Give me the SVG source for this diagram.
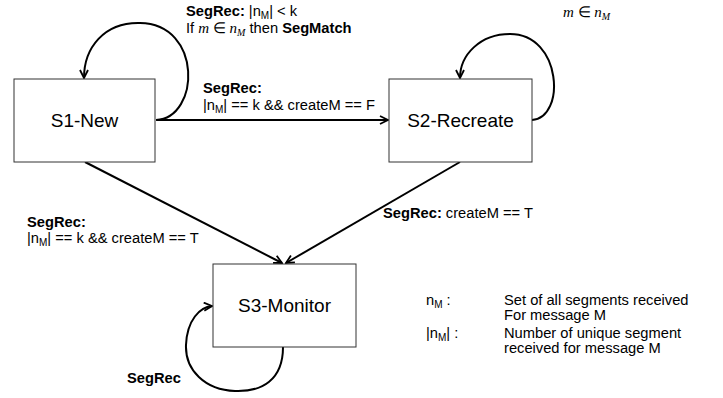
<svg xmlns="http://www.w3.org/2000/svg" width="723" height="398" viewBox="0 0 723 398">
<style>
.box{fill:#fff;stroke:#333;stroke-width:1}
.nl{font-family:"Liberation Sans",Arial,sans-serif;font-size:19px;fill:#000;text-anchor:middle}
.t{font-family:"Liberation Sans",Arial,sans-serif;font-size:14.7px;fill:#000}
.b{font-weight:bold}
.m{font-family:"Liberation Serif","Times New Roman",serif;font-size:15px}
.i{font-style:italic}
.sub{font-size:10px}
.e{fill:none;stroke:#000;stroke-width:2}
</style>
<defs>
<marker id="ah" viewBox="0 0 10 10" refX="9" refY="5" markerWidth="5" markerHeight="5" orient="auto" markerUnits="strokeWidth">
<path d="M1,1 L9,5 L1,9" fill="none" stroke="#000" stroke-width="1.8"/>
</marker>
</defs>
<g id="connectors">
<path class="e" d="M157,120 L388,120" marker-end="url(#ah)"/>
<path class="e" d="M85,162 L282,263" marker-end="url(#ah)"/>
<path class="e" d="M460,162 L286,263" marker-end="url(#ah)"/>
<path class="e" d="M156,120 C200,118 203,24 140,23 C104,22 84,48 84,78" marker-end="url(#ah)"/>
<path class="e" d="M532,120 C566,118 562,34 510,34 C480,34 460,55 460,78" marker-end="url(#ah)"/>
<path class="e" d="M283,347 C283,380 262,392 235,391 C205,390 185,370 186,345 C187,320 200,307 212,306" marker-end="url(#ah)"/>
</g>
<g id="s1"><rect class="box" x="14" y="79" width="141" height="83"/><text class="nl" x="84.5" y="127">S1-New</text></g>
<g id="s2"><rect class="box" x="389" y="79" width="143" height="83"/><text class="nl" x="460.5" y="127">S2-Recreate</text></g>
<g id="s3"><rect class="box" x="213" y="264" width="143" height="83"/><text class="nl" x="284.5" y="312">S3-Monitor</text></g>
<g id="labels">
<text class="t" x="186" y="16"><tspan class="b">SegRec:</tspan> |n<tspan class="sub" dy="3">M</tspan><tspan dy="-3">| &lt; k</tspan></text>
<text class="t" x="186" y="33">If <tspan class="m i">m</tspan><tspan class="m"> ∈ </tspan><tspan class="m i">n</tspan><tspan class="m i sub" dy="3">M</tspan><tspan dy="-3"> then </tspan><tspan class="b">SegMatch</tspan></text>
<text class="t b" x="203" y="93">SegRec:</text>
<text class="t" x="203" y="110">|n<tspan class="sub" dy="3">M</tspan><tspan dy="-3">| == k &amp;&amp; createM == F</tspan></text>
<text class="t b" x="27" y="227">SegRec:</text>
<text class="t" x="27" y="243">|n<tspan class="sub" dy="3">M</tspan><tspan dy="-3">| == k &amp;&amp; createM == T</tspan></text>
<text class="t" x="383" y="218"><tspan class="b">SegRec:</tspan> createM == T</text>
<text class="t b" x="127" y="383">SegRec</text>
<text class="m" x="563" y="17"><tspan class="i">m</tspan> ∈ <tspan class="i">n</tspan><tspan class="i sub" dy="3">M</tspan></text>
</g>
<g id="legend">
<text class="t" x="426" y="305">n<tspan class="sub" dy="3">M</tspan><tspan dy="-3"> :</tspan></text>
<text class="t" x="504" y="305">Set of all segments received</text>
<text class="t" x="504" y="320">For message M</text>
<text class="t" x="426" y="338">|n<tspan class="sub" dy="3">M</tspan><tspan dy="-3">| :</tspan></text>
<text class="t" x="504" y="338">Number of unique segment</text>
<text class="t" x="504" y="353">received for message M</text>
</g>
</svg>
